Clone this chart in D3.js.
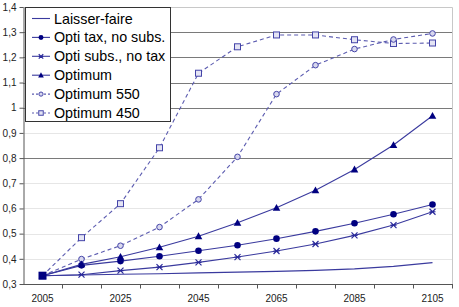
<!DOCTYPE html>
<html>
<head>
<meta charset="utf-8">
<script src="https://cdn.jsdelivr.net/npm/d3@7"></script>
<style>
  body { margin: 0; background: #fff; }
  svg { font-family: "Liberation Sans", Arial, sans-serif; }
</style>
</head>
<body>
<div id="chart"></div>
<script>
// years on the x axis (one category per decade)
const years = [2005, 2015, 2025, 2035, 2045, 2055, 2065, 2075, 2085, 2095, 2105];
const yearLabels = ["2005", "", "2025", "", "2045", "", "2065", "", "2085", "", "2105"];
const yTicks = [0.3, 0.4, 0.5, 0.6, 0.7, 0.8, 0.9, 1, 1.1, 1.2, 1.3, 1.4];

const laisserFaire = [0.333, 0.336, 0.339, 0.341, 0.344, 0.347, 0.350, 0.354, 0.360, 0.370, 0.385];
const optiTax = [0.333, 0.374, 0.391, 0.410, 0.432, 0.454, 0.480, 0.509, 0.541, 0.577, 0.616];
const optiSubs = [0.333, 0.337, 0.353, 0.367, 0.386, 0.407, 0.431, 0.459, 0.493, 0.534, 0.587];
const optimum = [0.333, 0.378, 0.408, 0.446, 0.490, 0.543, 0.603, 0.672, 0.755, 0.852, 0.968];
const optimum550 = [0.333, 0.399, 0.452, 0.526, 0.636, 0.805, 1.054, 1.169, 1.233, 1.271, 1.295];
const optimum450 = [0.333, 0.484, 0.619, 0.841, 1.137, 1.242, 1.289, 1.289, 1.270, 1.255, 1.257];

const seriesNames = ["Laisser-faire", "Opti tax, no subs.", "Opti subs., no tax", "Optimum", "Optimum 550", "Optimum 450"];

const navy = "#000080";
const series = [
    { name: seriesNames[0], values: laisserFaire, marker: "none", dashed: false },
    { name: seriesNames[1], values: optiTax, marker: "dot", dashed: false },
    { name: seriesNames[2], values: optiSubs, marker: "star", dashed: false },
    { name: seriesNames[3], values: optimum, marker: "triangle", dashed: false },
    { name: seriesNames[4], values: optimum550, marker: "ocircle", dashed: true },
    { name: seriesNames[5], values: optimum450, marker: "osquare", dashed: true }
];

const W = 459, H = 307;
const plot = { left: 23, right: 452, top: 7, bottom: 284 };

const svg = d3.select("#chart").append("svg")
    .attr("width", W)
    .attr("height", H);

const x = d3.scaleBand()
    .domain(years)
    .range([plot.left, plot.right]);

const y = d3.scaleLinear()
    .domain([0.3, 1.4])
    .range([plot.bottom, plot.top]);

const fmt = v => String(v).replace(".", ",");

// gridlines (some drawn darker, as in the original)
const darkGrid = new Set([0.8, 1, 1.1, 1.2, 1.3]);
svg.append("g")
    .selectAll("line")
    .data(yTicks.filter(d => d > 0.3 && d < 1.4))
    .join("line")
    .attr("x1", plot.left)
    .attr("x2", plot.right)
    .attr("y1", d => Math.round(y(d)) + 0.5)
    .attr("y2", d => Math.round(y(d)) + 0.5)
    .attr("stroke", d => darkGrid.has(d) ? "#7a7a7a" : "#e6e6e6")
    .attr("stroke-width", 1);

// plot frame (top + right)
svg.append("path")
    .attr("d", `M${plot.left},${plot.top + 0.5}H${plot.right + 0.5}V${plot.bottom}`)
    .attr("fill", "none")
    .attr("stroke", "#c8c8c8");

// y axis
const yAxis = svg.append("g")
    .attr("transform", `translate(${plot.left + 0.5},0)`)
    .call(d3.axisLeft(y).tickValues(yTicks).tickFormat(fmt).tickSize(4).tickSizeOuter(0));
yAxis.select(".domain").attr("stroke", "#555");
yAxis.selectAll(".tick line").attr("stroke", "#555");
yAxis.selectAll("text").attr("font-size", 10).attr("fill", "#222")
    .attr("font-family", "Liberation Sans, Arial, sans-serif");

// x axis: ticks at category boundaries, labels at centres
const xAxisG = svg.append("g")
    .attr("transform", `translate(0,${plot.bottom + 0.5})`);
xAxisG.append("line")
    .attr("x1", plot.left).attr("x2", plot.right + 1)
    .attr("stroke", "#555");
xAxisG.selectAll(".xtick")
    .data(years)
    .join("line")
    .attr("class", "xtick")
    .attr("x1", d => Math.round(x(d) + x.bandwidth()) + 0.5)
    .attr("x2", d => Math.round(x(d) + x.bandwidth()) + 0.5)
    .attr("y1", 0).attr("y2", 4)
    .attr("stroke", "#555");
xAxisG.selectAll(".xlabel")
    .data(years)
    .join("text")
    .attr("class", "xlabel")
    .attr("x", d => x(d) + x.bandwidth() / 2)
    .attr("y", 17.5)
    .attr("text-anchor", "middle")
    .attr("font-size", 10)
    .attr("fill", "#222")
    .text((d, i) => yearLabels[i]);

const cx = i => x(years[i]) + x.bandwidth() / 2;

const line = d3.line()
    .x((d, i) => cx(i))
    .y(d => y(d));

function drawMarker(g, type, px, py, k = 1) {
    if (type === "dot") {
        g.append("circle").attr("cx", px).attr("cy", py).attr("r", 3.3 * k).attr("fill", navy);
    } else if (type === "triangle") {
        const a = 3.8 * k, b = 3 * k;
        g.append("path")
            .attr("d", `M${px},${py - a}L${px + a},${py + b}L${px - a},${py + b}Z`)
            .attr("fill", navy);
    } else if (type === "star") {
        const s = 3 * k;
        g.append("path")
            .attr("d", `M${px - s},${py - s}L${px + s},${py + s}M${px - s},${py + s}L${px + s},${py - s}M${px - s},${py}H${px + s}`)
            .attr("stroke", "#2a2a9a").attr("stroke-width", 1.2).attr("fill", "none");
    } else if (type === "ocircle") {
        g.append("circle").attr("cx", px).attr("cy", py).attr("r", 2.8 * k)
            .attr("fill", "#d8d8ee").attr("stroke", "#4444a8").attr("stroke-width", 1);
    } else if (type === "osquare") {
        const s = 3 * k;
        g.append("rect").attr("x", px - s).attr("y", py - s).attr("width", 2 * s).attr("height", 2 * s)
            .attr("fill", "#e4e4f4").attr("stroke", "#4444a8").attr("stroke-width", 1);
    }
}

// draw series (dashed ones first so solid sit on top)
const order = [5, 4, 0, 1, 2, 3];
order.forEach(k => {
    const s = series[k];
    const g = svg.append("g");
    g.append("path")
        .datum(s.values)
        .attr("d", line)
        .attr("fill", "none")
        .attr("stroke", s.dashed ? "#5c5cb0" : "#3a3a9e")
        .attr("stroke-width", 1.1)
        .attr("stroke-dasharray", s.dashed ? "4,3" : null);
    s.values.forEach((v, i) => drawMarker(g, s.marker, cx(i), y(v)));
});

// first point: overlapping markers read as a filled square
svg.append("rect")
    .attr("x", cx(0) - 4).attr("y", y(optimum450[0]) - 4)
    .attr("width", 8).attr("height", 8)
    .attr("fill", navy);

// legend
const legend = svg.append("g");
legend.append("rect")
    .attr("x", 25.5).attr("y", 7.5)
    .attr("width", 145).attr("height", 114)
    .attr("fill", "#fff")
    .attr("stroke", "#333");
series.forEach((s, i) => {
    const ly = 18.5 + i * 18.9;
    legend.append("line")
        .attr("x1", 32).attr("x2", 50)
        .attr("y1", ly).attr("y2", ly)
        .attr("stroke", s.dashed ? "#5c5cb0" : "#3a3a9e")
        .attr("stroke-width", 1.1)
        .attr("stroke-dasharray", s.dashed ? "2,2" : null);
    drawMarker(legend, s.marker, 41, ly, 0.75);
    legend.append("text")
        .attr("x", 54)
        .attr("y", ly + 5)
        .attr("font-size", 14.3)
        .attr("fill", "#000")
        .text(s.name);
});
</script>
</body>
</html>
